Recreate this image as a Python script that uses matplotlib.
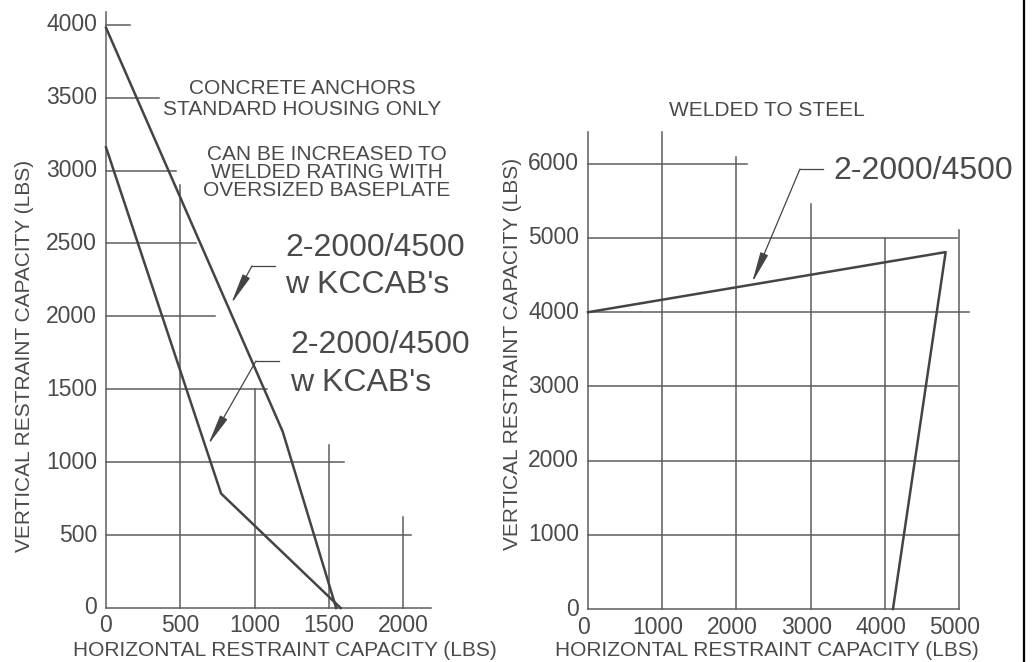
import matplotlib.pyplot as plt
from matplotlib.lines import Line2D

plt.rcParams['font.family'] = ['Liberation Sans', 'DejaVu Sans']

# left chart: concrete anchors
left_yticks = [0, 500, 1000, 1500, 2000, 2500, 3000, 3500, 4000]
left_xticks = [0, 500, 1000, 1500, 2000]
# how far each partial grid line reaches
left_hgrid_end = [2190, 2054, 1603, 1084, 734, 606, 471, 357, 162]   # for y = 0..4000
left_vgrid_top = [4090, 2900, 1500, 1118, 624]                     # for x = 0..2000
kccab_x = [0, 1190, 1550]
kccab_y = [3980, 1210, 0]
kcab_x = [0, 775, 1580]
kcab_y = [3160, 785, 0]

# right chart: welded to steel
right_yticks = [0, 1000, 2000, 3000, 4000, 5000, 6000]
right_xticks = [0, 1000, 2000, 3000, 4000, 5000]
right_hgrid_end = [5000, 5000, 5000, 4970, 5130, 4970, 2140]
right_vgrid_top = [6430, 6430, 6090, 5460, 5000, 5110]
welded_x = [0, 4820, 4110]
welded_y = [4000, 4810, 0]

grid_c = '#5c5c5c'
line_c = '#444444'
text_c = '#4a4a4a'

fig = plt.figure(figsize=(10.32, 6.62), dpi=100)
W, H = 1032, 662
ax1 = fig.add_axes([106 / W, 54 / H, 2200 * 0.1485 / W, 4100 * 0.1458 / H])
ax2 = fig.add_axes([588 / W, 53 / H, 5200 * 0.0742 / W, 6500 * 0.0742 / H])
ax1.set_xlim(0, 2200)
ax1.set_ylim(0, 4100)
ax2.set_xlim(0, 5200)
ax2.set_ylim(0, 6500)


def draw_grid(ax, xticks, yticks, hend, vtop, xoff):
    for y, e in zip(yticks, hend):
        ax.plot([0, e], [y, y], color=grid_c, lw=1.1, clip_on=False)
    for x, t in zip(xticks, vtop):
        ax.plot([x, x], [0, t], color=grid_c, lw=1.1, clip_on=False)
    for y in yticks:
        ax.annotate(str(y), (0, y), xytext=(-9, 0), textcoords='offset pixels',
                    ha='right', va='center', fontsize=16.5, color=text_c)
    for x in xticks:
        ax.annotate(str(x), (x, 0), xytext=(xoff, -18), textcoords='offset pixels',
                    ha='center', va='center', fontsize=16.5, color=text_c)
    ax.axis('off')


def leader(ax, pts):
    (x0, y0), (x1, y1), (x2, y2) = pts
    ax.plot([x0, x1], [y0, y1], color=line_c, lw=0.9, clip_on=False)
    ax.annotate('', xy=(x2, y2), xytext=(x1, y1),
                arrowprops=dict(arrowstyle='-|>,head_length=1.9,head_width=0.25',
                                color=line_c, lw=0.9, shrinkA=0, shrinkB=0,
                                mutation_scale=10))


draw_grid(ax1, left_xticks, left_yticks, left_hgrid_end, left_vgrid_top, 0)
draw_grid(ax2, right_xticks, right_yticks, right_hgrid_end, right_vgrid_top, -4)

ax1.plot(kccab_x, kccab_y, color=line_c, lw=1.8, clip_on=False)
ax1.plot(kcab_x, kcab_y, color=line_c, lw=1.8, clip_on=False)
ax2.plot(welded_x, welded_y, color=line_c, lw=1.8, clip_on=False)

# notes, left
ax1.text(1320, 3491, "CONCRETE ANCHORS\nSTANDARD HOUSING ONLY", ha='center', va='center',
         fontsize=15, color=text_c, linespacing=1.12)
ax1.text(1488, 2984, "CAN BE INCREASED TO\nWELDED RATING WITH\nOVERSIZED BASEPLATE",
         ha='center', va='center', fontsize=15, color=text_c, linespacing=0.93)
ax1.text(1205, 2414, "2-2000/4500", fontsize=23, color=text_c, va='baseline')
ax1.text(1205, 2160, "w KCCAB's", fontsize=23, color=text_c, va='baseline')
ax1.text(1239, 1749, "2-2000/4500", fontsize=23, color=text_c, va='baseline')
ax1.text(1239, 1488, "w KCAB's", fontsize=23, color=text_c, va='baseline')
leader(ax1, [(1138, 2346), (983, 2346), (842, 2085)])
leader(ax1, [(1165, 1694), (1010, 1694), (687, 1118)])

# notes, right
ax2.text(2412, 6712, "WELDED TO STEEL", ha='center', va='center', fontsize=15, color=text_c)
ax2.text(3302, 5795, "2-2000/4500", fontsize=23, color=text_c, va='baseline')
leader(ax2, [(3167, 5930), (2857, 5930), (2210, 4394)])

# axis titles
fig.text(285 / W, 1 - 650 / H, "HORIZONTAL RESTRAINT CAPACITY (LBS)", ha='center', va='center',
         fontsize=15, color=text_c)
fig.text(767 / W, 1 - 650 / H, "HORIZONTAL RESTRAINT CAPACITY (LBS)", ha='center', va='center',
         fontsize=15, color=text_c)
fig.text(25 / W, 1 - 356 / H, "VERTICAL RESTRAINT CAPACITY (LBS)", ha='center', va='center',
         rotation=90, fontsize=15, color=text_c)
fig.text(512 / W, 1 - 354 / H, "VERTICAL RESTRAINT CAPACITY (LBS)", ha='center', va='center',
         rotation=90, fontsize=15, color=text_c)

# sheet border on the right
fig.add_artist(Line2D([1024 / W, 1024 / W], [0, 1], transform=fig.transFigure, color='black', lw=1.6))

fig.savefig('out.png', dpi=100)
